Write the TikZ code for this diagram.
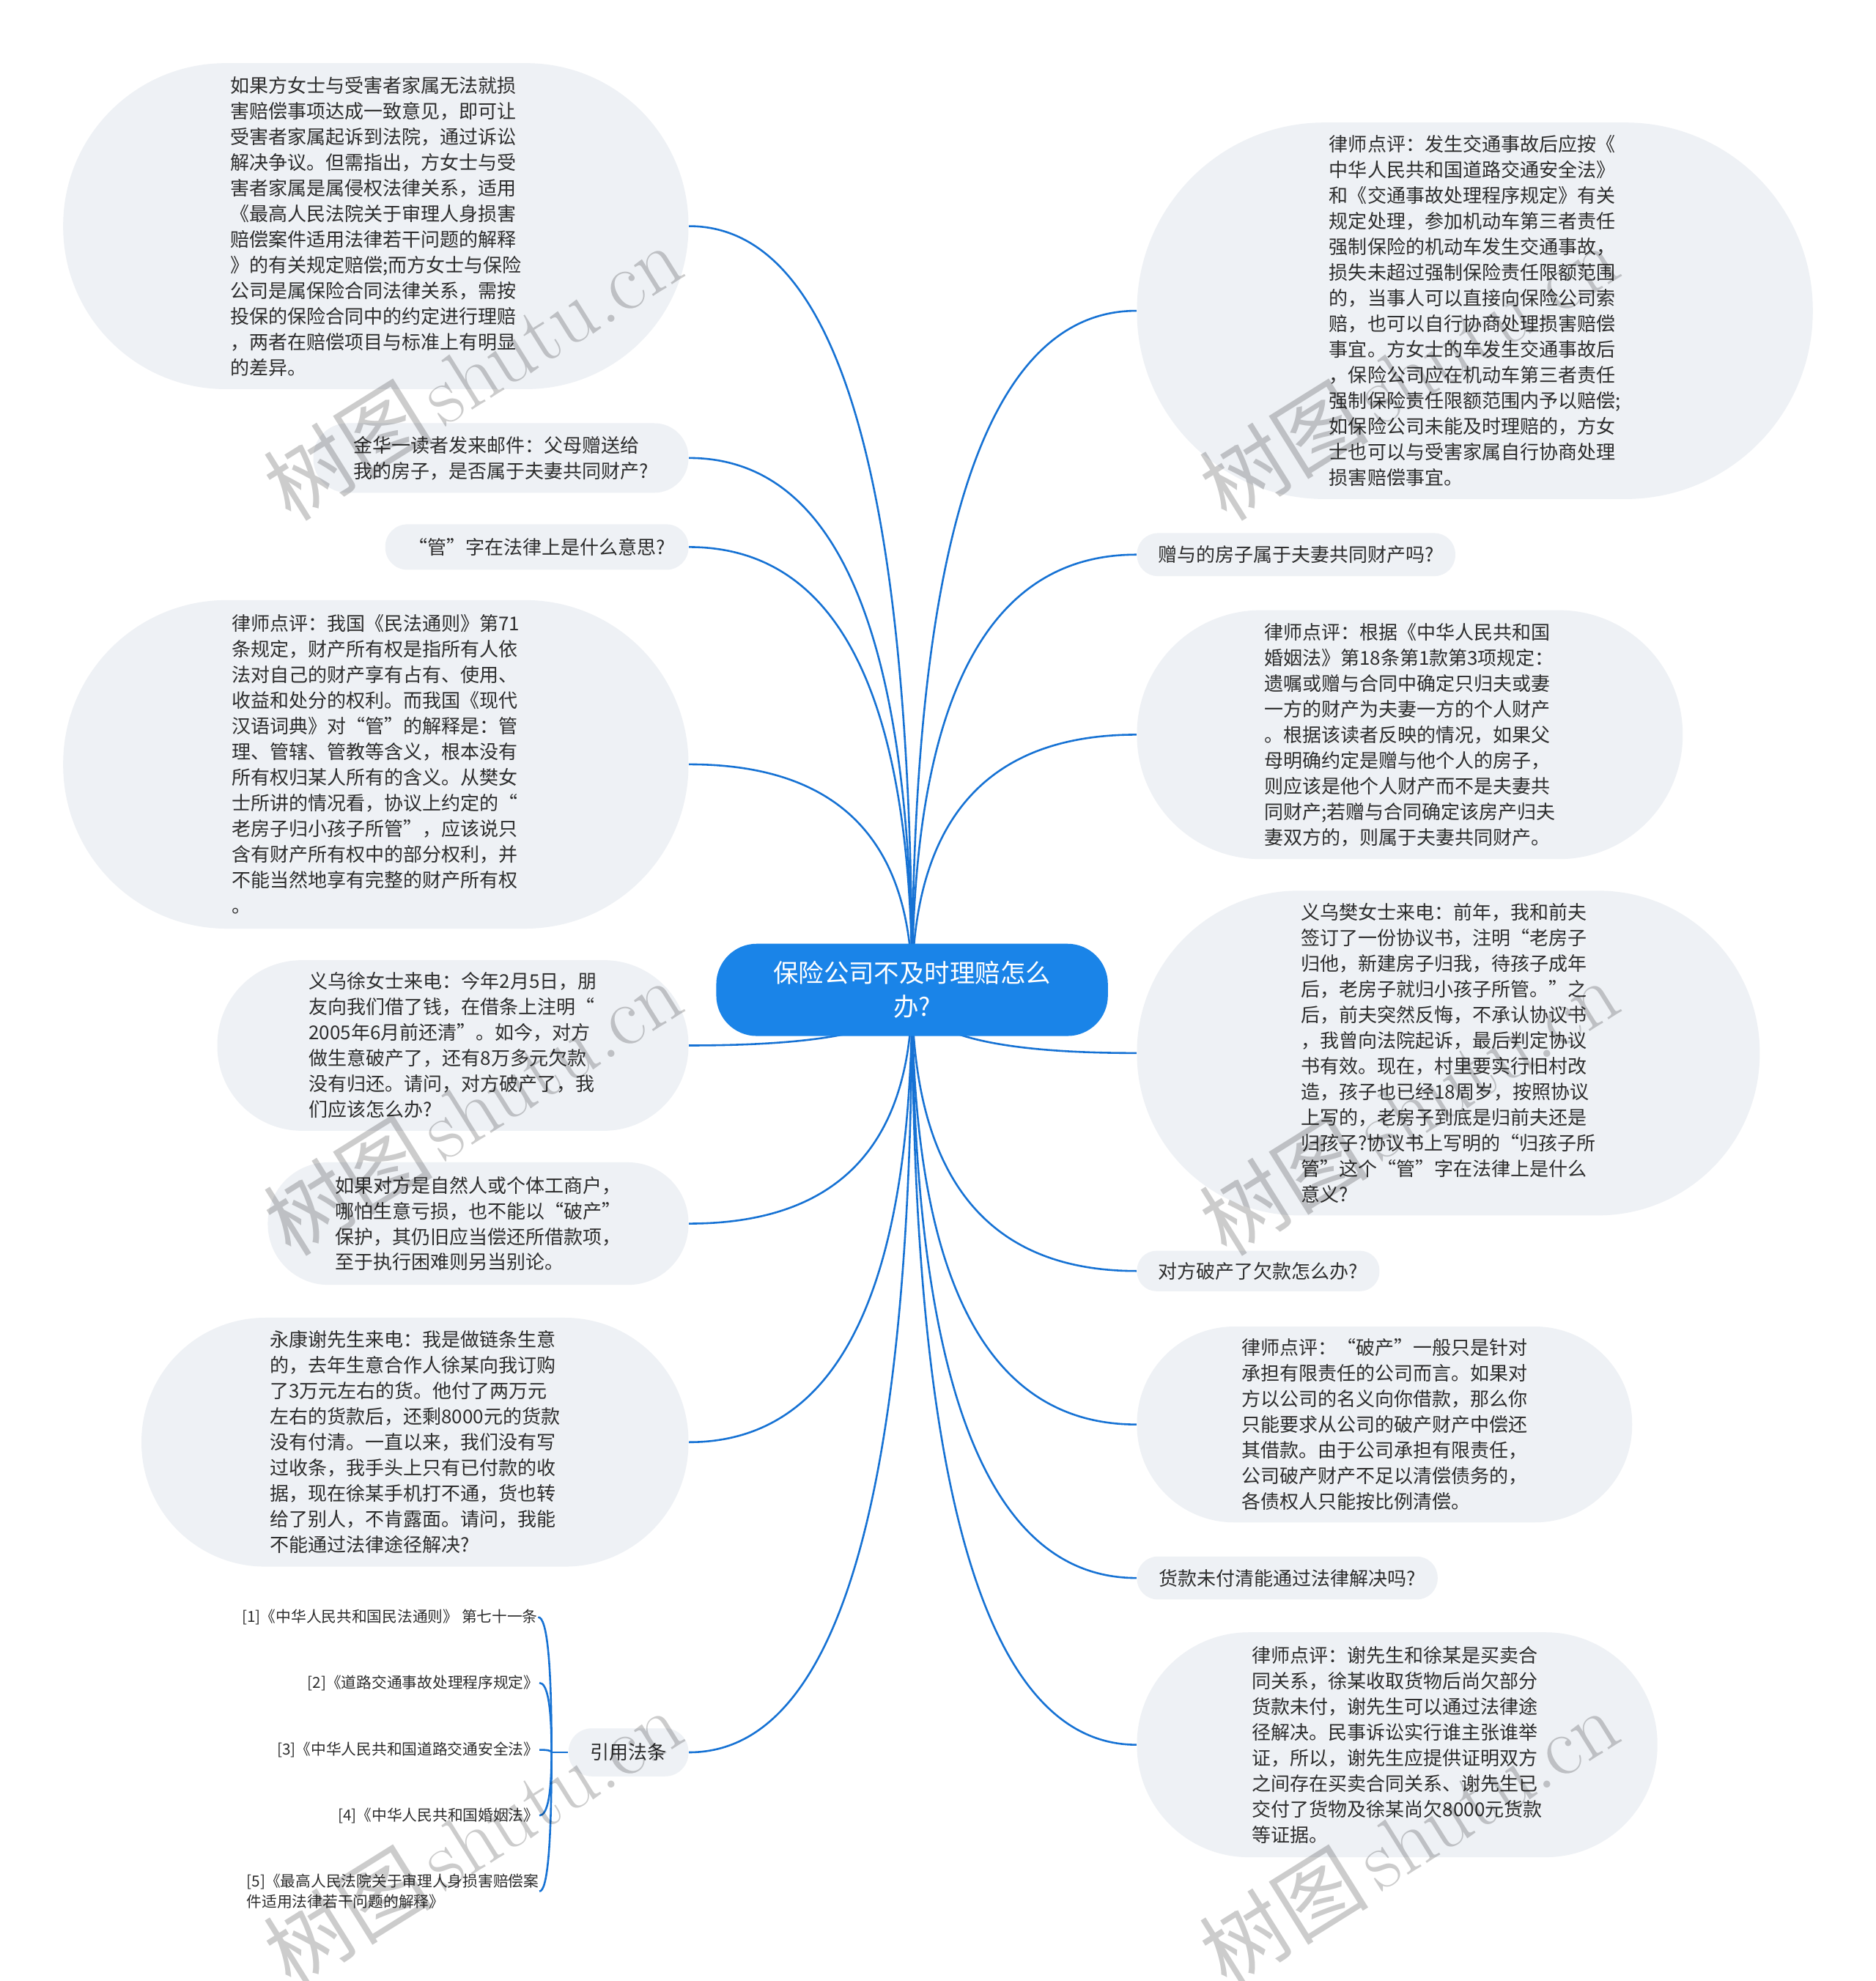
\documentclass[tikz,border=0pt]{standalone}
\usepackage{fontspec}
\newfontfamily\cjk{Noto Sans CJK SC}
\newfontfamily\cjkfw[RawFeature=+fwid]{Noto Sans CJK SC}
\usetikzlibrary{calc,backgrounds}
\definecolor{bubfill}{RGB}{238,241,245}
\definecolor{linkc}{RGB}{22,114,212}
\definecolor{rootc}{RGB}{26,132,232}
\definecolor{txtc}{RGB}{45,45,45}
\newdimen\pxu
\pxu=0.0172391cm
\newcommand\qo{{\cjkfw “}}
\newcommand\qc{{\cjkfw ”}}
\newcommand\mmconn[2]{\draw[link] (#1) .. controls ($(#1)!0.6667!(#1 |- #2)$) and ($(#2)!0.6667!(#1 |- #2)$) .. (#2);}
\tikzset{
  bub/.style={fill=bubfill,inner sep=0pt,text=txtc,align=left,font=\cjk\fontsize{7.4}{9.96}\selectfont},
  bsz/.style n args={3}{minimum width=#1\pxu,minimum height=#2\pxu,rounded corners=#3\pxu},
  rootnode/.style={fill=rootc,text=white,align=center,inner sep=0pt,font=\cjk\fontsize{9.8}{13.2}\selectfont,minimum width=310\pxu,minimum height=73\pxu,rounded corners=32\pxu},
  refnode/.style={font=\cjk\fontsize{5.9}{7.84}\selectfont,text=txtc,inner sep=0pt,anchor=east,align=left},
  link/.style={draw=linkc,line width=1.5\pxu},
  wm/.style={rotate=32,text=black,opacity=0.2,inner sep=0pt}
}
\begin{document}
\begin{tikzpicture}[x=\pxu,y=-\pxu]
\useasboundingbox (0,0) rectangle (1485,1568);

% root
\node[rootnode] (root) at (722,783.5) {保险公司不及时理赔怎么\\办?};

% left side
\node[bub,bsz={495}{258}{128.5}] (L1) at (297.5,179) {如果方女士与受害者家属无法就损\\害赔偿事项达成一致意见，即可让\\受害者家属起诉到法院，通过诉讼\\解决争议。但需指出，方女士与受\\害者家属是属侵权法律关系，适用\\《最高人民法院关于审理人身损害\\赔偿案件适用法律若干问题的解释\\》的有关规定赔偿;而方女士与保险\\公司是属保险合同法律关系，需按\\投保的保险合同中的约定进行理赔\\，两者在赔偿项目与标准上有明显\\的差异。};
\node[bub,bsz={297}{55}{27}] (L2) at (396.5,362.5) {金华一读者发来邮件：父母赠送给\\我的房子，是否属于夫妻共同财产?};
\node[bub,bsz={240}{36}{17.5}] (L3) at (425,433) {\qo 管\qc 字在法律上是什么意思?};
\node[bub,bsz={495}{260}{129.5}] (L4) at (297.5,605) {律师点评：我国《民法通则》第71\\条规定，财产所有权是指所有人依\\法对自己的财产享有占有、使用、\\收益和处分的权利。而我国《现代\\汉语词典》对\qo 管\qc 的解释是：管\\理、管辖、管教等含义，根本没有\\所有权归某人所有的含义。从樊女\\士所讲的情况看，协议上约定的\qo\\老房子归小孩子所管\qc ，应该说只\\含有财产所有权中的部分权利，并\\不能当然地享有完整的财产所有权\\。};
\node[bub,bsz={373}{135}{67}] (L5) at (358.5,827.5) {义乌徐女士来电：今年2月5日，朋\\友向我们借了钱，在借条上注明\qo\\2005年6月前还清\qc 。如今，对方\\做生意破产了，还有8万多元欠款\\没有归还。请问，对方破产了，我\\们应该怎么办?};
\node[bub,bsz={333}{97}{48}] (L6) at (378.5,968.5) {如果对方是自然人或个体工商户，\\哪怕生意亏损，也不能以\qo 破产\qc\\保护，其仍旧应当偿还所借款项，\\至于执行困难则另当别论。};
\node[bub,bsz={433}{197}{98}] (L7) at (328.5,1141.5) {永康谢先生来电：我是做链条生意\\的，去年生意合作人徐某向我订购\\了3万元左右的货。他付了两万元\\左右的货款后，还剩8000元的货款\\没有付清。一直以来，我们没有写\\过收条，我手头上只有已付款的收\\据，现在徐某手机打不通，货也转\\给了别人，不肯露面。请问，我能\\不能通过法律途径解决?};
\node[bub,bsz={95}{38}{18.5}] (L8) at (497.5,1387) {引用法条};

% references
\node[refnode] (F1) at (426,1280) {[1]《中华人民共和国民法通则》 第七十一条};
\node[refnode] (F2) at (427,1332) {[2]《道路交通事故处理程序规定》};
\node[refnode] (F3) at (427,1385) {[3]《中华人民共和国道路交通安全法》};
\node[refnode] (F4) at (427,1437) {[4]《中华人民共和国婚姻法》};
\node[refnode] (F5) at (427,1497) {[5]《最高人民法院关于审理人身损害赔偿案\\件适用法律若干问题的解释》};
\coordinate (J) at ($(L8.west)+(-13,0)$);

% right side
\node[bub,bsz={535}{298}{148.5}] (R1) at (1167.5,246) {律师点评：发生交通事故后应按《\\中华人民共和国道路交通安全法》\\和《交通事故处理程序规定》有关\\规定处理，参加机动车第三者责任\\强制保险的机动车发生交通事故，\\损失未超过强制保险责任限额范围\\的，当事人可以直接向保险公司索\\赔，也可以自行协商处理损害赔偿\\事宜。方女士的车发生交通事故后\\，保险公司应在机动车第三者责任\\强制保险责任限额范围内予以赔偿;\\如保险公司未能及时理赔的，方女\\士也可以与受害家属自行协商处理\\损害赔偿事宜。};
\node[bub,bsz={252}{34}{16.5}] (R2) at (1026,439) {赠与的房子属于夫妻共同财产吗?};
\node[bub,bsz={432}{197}{98}] (R3) at (1116,581.5) {律师点评：根据《中华人民共和国\\婚姻法》第18条第1款第3项规定：\\遗嘱或赠与合同中确定只归夫或妻\\一方的财产为夫妻一方的个人财产\\。根据该读者反映的情况，如果父\\母明确约定是赠与他个人的房子，\\则应该是他个人财产而不是夫妻共\\同财产;若赠与合同确定该房产归夫\\妻双方的，则属于夫妻共同财产。};
\node[bub,bsz={493}{257}{128}] (R4) at (1146.5,833.5) {义乌樊女士来电：前年，我和前夫\\签订了一份协议书，注明\qo 老房子\\归他，新建房子归我，待孩子成年\\后，老房子就归小孩子所管。\qc 之\\后，前夫突然反悔，不承认协议书\\，我曾向法院起诉，最后判定协议\\书有效。现在，村里要实行旧村改\\造，孩子也已经18周岁，按照协议\\上写的，老房子到底是归前夫还是\\归孩子?协议书上写明的\qo 归孩子所\\管\qc 这个\qo 管\qc 字在法律上是什么\\意义?};
\node[bub,bsz={192}{32}{15.5}] (R5) at (996,1006) {对方破产了欠款怎么办?};
\node[bub,bsz={392}{155}{77}] (R6) at (1096,1127.5) {律师点评：\qo 破产\qc 一般只是针对\\承担有限责任的公司而言。如果对\\方以公司的名义向你借款，那么你\\只能要求从公司的破产财产中偿还\\其借款。由于公司承担有限责任，\\公司破产财产不足以清偿债务的，\\各债权人只能按比例清偿。};
\node[bub,bsz={238}{34}{16.5}] (R7) at (1019,1249) {货款未付清能通过法律解决吗?};
\node[bub,bsz={412}{178}{88.5}] (R8) at (1106,1381) {律师点评：谢先生和徐某是买卖合\\同关系，徐某收取货物后尚欠部分\\货款未付，谢先生可以通过法律途\\径解决。民事诉讼实行谁主张谁举\\证，所以，谢先生应提供证明双方\\之间存在买卖合同关系、谢先生已\\交付了货物及徐某尚欠8000元货款\\等证据。};

% connectors
\begin{scope}[on background layer]
\fill[white] (0,0) rectangle (1485,1568);
\foreach \n in {L1,L2,L3,L4,L5,L6,L7,L8} {\mmconn{root.center}{\n.east}}
\foreach \n in {R1,R2,R3,R4,R5,R6,R7,R8} {\mmconn{root.center}{\n.west}}
\draw[link] (L8.west) -- (J);
\foreach \n in {F1,F2,F3,F4,F5} {\mmconn{J}{\n.east}}
\end{scope}

% watermarks
\foreach \wx/\wy/\wn in {374/294/W1,1115/294/W2,374/876/W3,1115/876/W4,374/1454/W5,1115/1454/W6}{
  \node[wm] (\wn) at (\wx,\wy) {{\cjk\fontsize{33}{33}\selectfont 树图}\hspace{4pt}{\fontsize{33}{33}\selectfont shutu.cn}};
}
\end{tikzpicture}
\end{document}
